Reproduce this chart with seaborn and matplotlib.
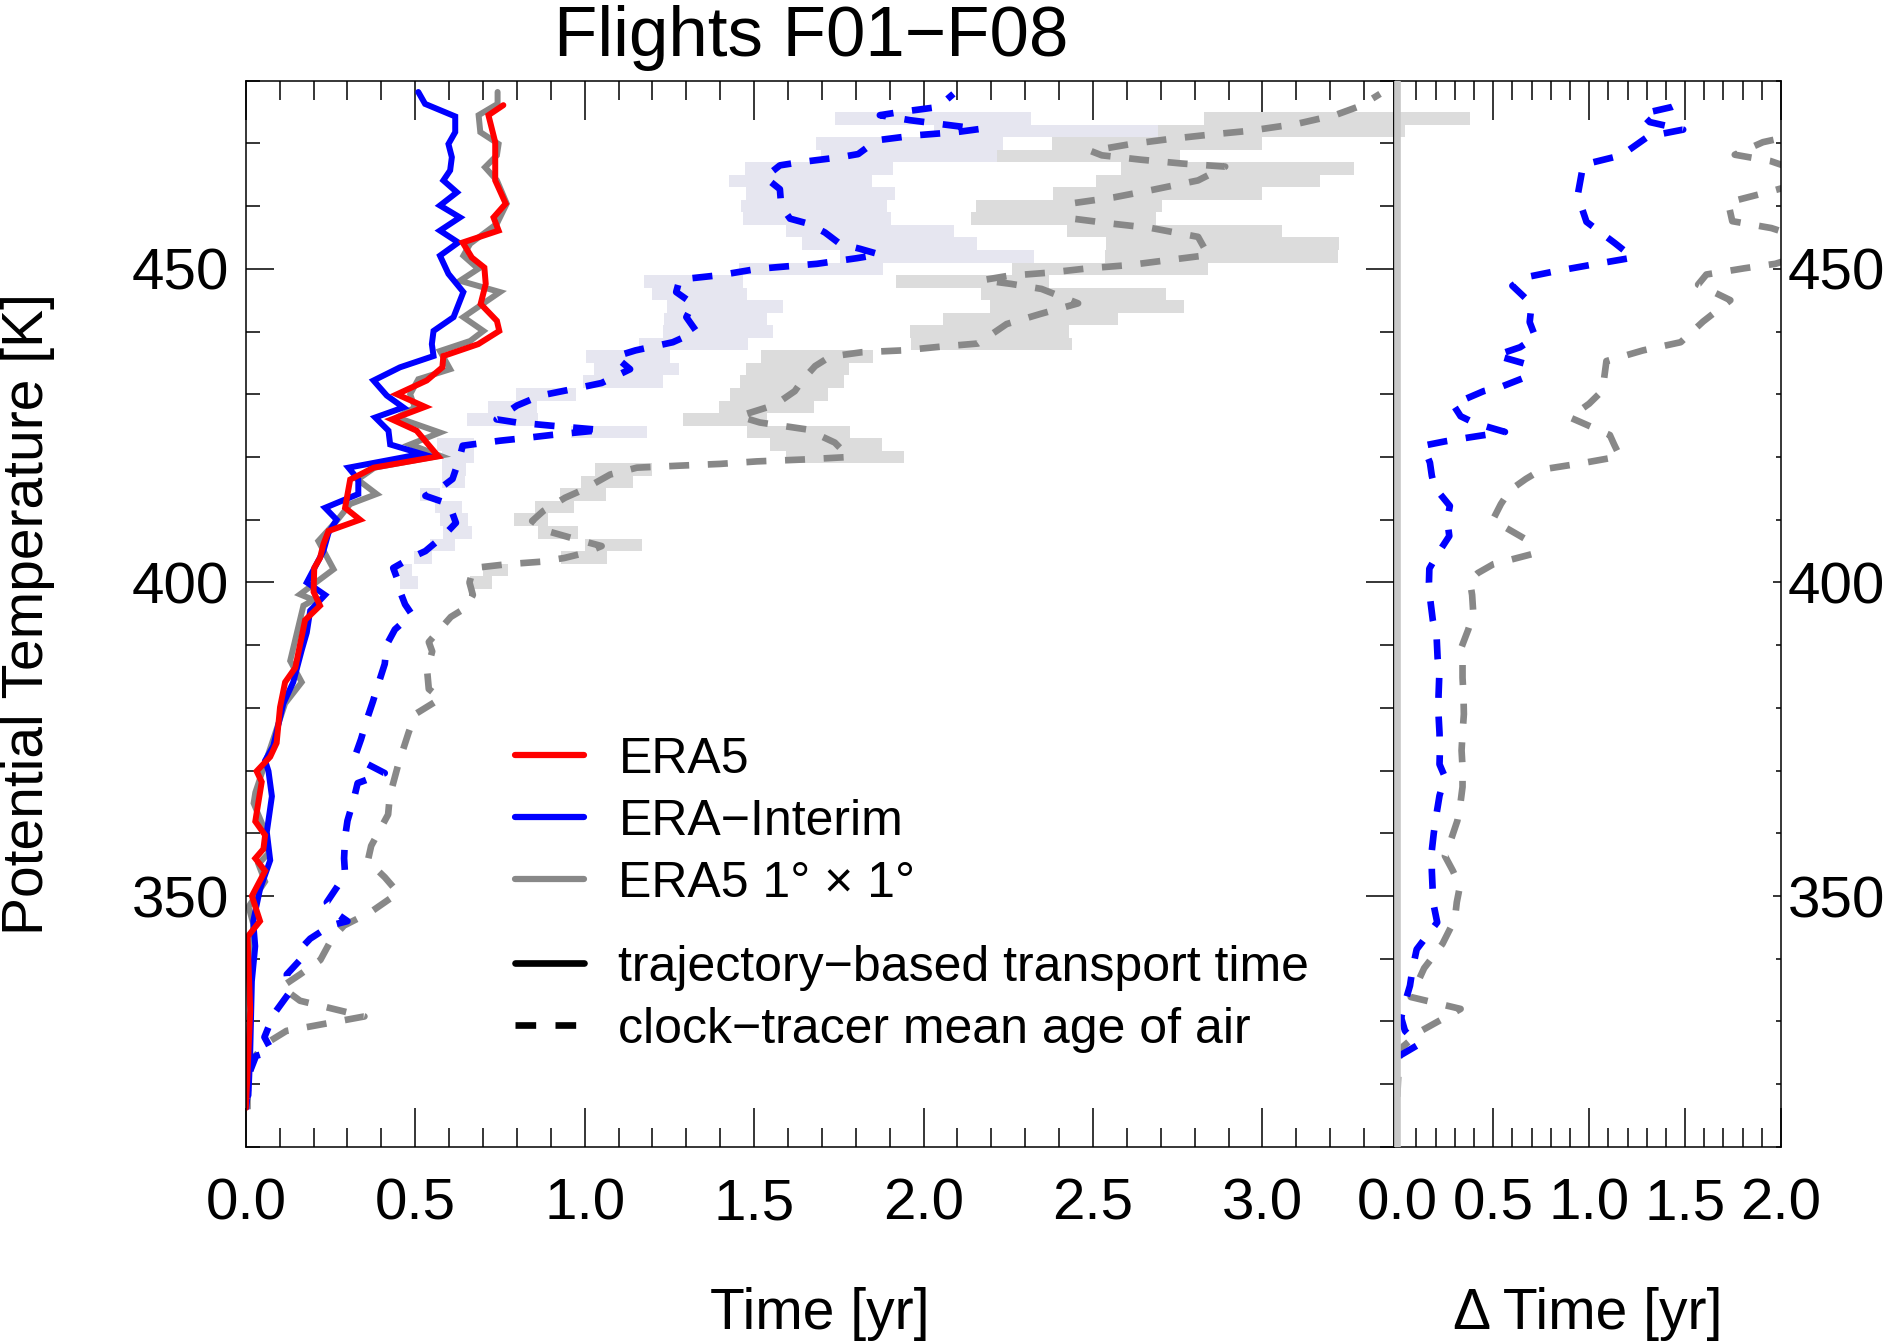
import numpy as np
import pandas as pd
import matplotlib
matplotlib.use("Agg")
import matplotlib.pyplot as plt
import seaborn as sns
from matplotlib.lines import Line2D
from matplotlib.ticker import MultipleLocator, FormatStrFormatter

# ---------------- data: (potential temperature [K], time [yr]) ----------------
era5_traj = [(316.2, 0.0), (321.6, 0.005), (331.8, 0.013), (343.5, 0.005), (346.0, 0.042),
             (350.0, 0.018), (354.0, 0.057), (356.0, 0.028), (357.5, 0.052), (359.7, 0.057),
             (361.9, 0.028), (368.2, 0.047), (369.9, 0.032), (372.2, 0.072), (374.4, 0.091),
             (380.1, 0.101), (384.1, 0.116), (386.4, 0.146), (394.0, 0.175), (396.3, 0.219),
             (398.5, 0.200), (402.3, 0.202), (403.9, 0.219), (406.1, 0.229), (408.2, 0.244),
             (410.0, 0.337), (411.9, 0.293), (416.4, 0.308), (418.3, 0.377), (420.1, 0.568),
             (424.2, 0.504), (426.0, 0.431), (428.0, 0.529), (430.0, 0.446), (432.2, 0.534),
             (434.3, 0.580), (436.1, 0.583), (438.0, 0.686), (440.1, 0.748), (441.7, 0.741),
             (444.4, 0.693), (447.6, 0.708), (450.2, 0.704), (451.8, 0.667), (454.2, 0.640),
             (456.1, 0.746), (458.2, 0.731), (460.4, 0.767), (464.1, 0.736), (470.2, 0.736),
             (474.5, 0.716), (476.1, 0.760)]

erai_traj = [(318.2, 0.008), (325.0, 0.013), (336.4, 0.018), (342.0, 0.028), (346.0, 0.022),
             (351.1, 0.042), (355.7, 0.072), (360.2, 0.062), (365.9, 0.077), (369.9, 0.067),
             (371.6, 0.057), (373.9, 0.081), (380.7, 0.111), (384.1, 0.140), (389.2, 0.165),
             (392.0, 0.180), (395.5, 0.190), (398.0, 0.234), (400.0, 0.180), (405.0, 0.229),
             (407.9, 0.244), (410.0, 0.268), (411.9, 0.234), (414.1, 0.332), (416.4, 0.332),
             (418.3, 0.303), (420.5, 0.519), (422.0, 0.426), (424.2, 0.421), (426.3, 0.382),
             (427.9, 0.465), (429.8, 0.416), (432.2, 0.377), (434.3, 0.455), (436.1, 0.554),
             (438.0, 0.549), (440.1, 0.554), (442.3, 0.613), (446.3, 0.642), (449.2, 0.598),
             (452.1, 0.573), (454.2, 0.627), (456.1, 0.573), (458.2, 0.632), (460.1, 0.573),
             (462.2, 0.623), (464.1, 0.583), (465.7, 0.603), (467.8, 0.608), (469.9, 0.598),
             (471.8, 0.618), (474.3, 0.618), (476.3, 0.529), (478.2, 0.509)]

era5c_traj = [(318.0, 0.005), (325.0, 0.010), (336.0, 0.015), (342.0, 0.020), (345.5, 0.022),
              (348.3, 0.008), (352.3, 0.057), (355.1, 0.037), (356.8, 0.067), (360.0, 0.060),
              (364.8, 0.023), (366.5, 0.028), (375.0, 0.081), (380.7, 0.116), (384.1, 0.165),
              (387.5, 0.131), (396.3, 0.170), (397.2, 0.200), (398.1, 0.160), (402.1, 0.259),
              (406.6, 0.214), (409.8, 0.268), (412.5, 0.308), (414.1, 0.386), (416.4, 0.330),
              (418.3, 0.380), (420.2, 0.573), (422.0, 0.485), (423.9, 0.573), (426.3, 0.446),
              (427.9, 0.499), (430.0, 0.485), (432.4, 0.509), (434.0, 0.603), (436.9, 0.573),
              (438.5, 0.662), (440.1, 0.701), (442.3, 0.642), (446.3, 0.750), (448.1, 0.632),
              (450.0, 0.686), (452.1, 0.642), (454.0, 0.662), (457.2, 0.741), (460.4, 0.770),
              (464.1, 0.741), (466.2, 0.706), (468.1, 0.741), (469.9, 0.746), (471.8, 0.692),
              (474.5, 0.687), (476.3, 0.743), (478.2, 0.743)]

erai_age = [(316.0, 0.0), (318.5, 0.005), (322.0, 0.012), (324.5, 0.03), (325.3, 0.077),
            (327.5, 0.055), (329.5, 0.07), (331.5, 0.087), (334.4, 0.126), (337.5, 0.121),
            (339.8, 0.16), (341.5, 0.16), (343.2, 0.19), (345.3, 0.25), (346.0, 0.30),
            (347.5, 0.26), (349.0, 0.239), (351.5, 0.27), (353.4, 0.293), (356.0, 0.29),
            (359.4, 0.293), (362.0, 0.30), (365.3, 0.318), (368.0, 0.33), (369.6, 0.41),
            (371.0, 0.36), (372.4, 0.323), (375.0, 0.34), (378.1, 0.357), (381.0, 0.375),
            (383.8, 0.391), (387.0, 0.41), (390.1, 0.416), (392.5, 0.44), (394.9, 0.49),
            (396.5, 0.47), (398.6, 0.455), (400.7, 0.446), (402.3, 0.435), (404.0, 0.49),
            (405.0, 0.53), (407.4, 0.583), (409.5, 0.62), (412.5, 0.60), (413.8, 0.53),
            (415.4, 0.583), (416.5, 0.61), (419.7, 0.63), (421.8, 0.64), (422.6, 0.75),
            (423.0, 0.82), (423.5, 0.90), (424.3, 1.05), (425.0, 0.90), (425.5, 0.80),
            (426.0, 0.74), (428.2, 0.80), (429.8, 0.87), (431.0, 0.98), (431.8, 1.05),
            (434.0, 1.134), (436.0, 1.09), (437.0, 1.15), (438.3, 1.26), (440.0, 1.33),
            (442.3, 1.30), (444.4, 1.32), (446.3, 1.27), (448.3, 1.28), (449.0, 1.40),
            (450.0, 1.51), (450.8, 1.685), (451.7, 1.803), (452.3, 1.87), (453.2, 1.812),
            (454.0, 1.753), (455.8, 1.709), (457.2, 1.66), (458.0, 1.606), (460.0, 1.58),
            (462.7, 1.576), (464.6, 1.532), (466.5, 1.576), (467.0, 1.635), (467.8, 1.754),
            (468.3, 1.807), (470.5, 1.862), (471.3, 1.979), (471.8, 2.097), (472.3, 2.166),
            (473.1, 2.048), (473.7, 1.96), (474.5, 1.871), (475.0, 1.93), (475.8, 2.043),
            (477.9, 2.088)]

era5c_age = [(316.0, 0.005), (320.0, 0.005), (324.0, 0.02), (326.5, 0.06), (328.5, 0.12),
             (329.5, 0.22), (330.8, 0.35), (333.3, 0.16), (335.5, 0.105), (337.5, 0.16),
             (339.8, 0.22), (343.2, 0.254), (345.3, 0.29), (347.5, 0.37), (350.5, 0.45),
             (353.0, 0.41), (355.6, 0.36), (358.0, 0.37), (360.0, 0.39), (363.0, 0.42),
             (366.0, 0.425), (371.0, 0.45), (376.0, 0.48), (379.0, 0.50), (381.5, 0.575),
             (383.0, 0.54), (386.0, 0.535), (389.0, 0.55), (390.5, 0.54), (394.5, 0.605),
             (396.0, 0.65), (398.0, 0.67), (400.0, 0.66), (402.3, 0.672), (402.9, 0.77),
             (403.3, 0.87), (403.9, 0.94), (404.7, 1.0), (405.8, 1.05), (407.0, 0.967),
             (408.2, 0.889), (409.8, 0.845), (411.4, 0.878), (413.5, 0.942), (414.8, 0.996),
             (417.2, 1.075), (418.3, 1.154), (418.6, 1.272), (418.9, 1.40), (419.3, 1.508),
             (419.6, 1.645), (420.0, 1.78), (422.3, 1.738), (424.4, 1.655), (425.5, 1.517),
             (426.5, 1.455), (428.3, 1.561), (430.5, 1.62), (432.4, 1.645), (434.5, 1.68),
             (436.0, 1.724), (436.7, 1.817), (437.0, 1.938), (437.6, 2.052), (438.1, 2.161),
             (441.2, 2.245), (442.8, 2.344), (444.5, 2.456), (446.8, 2.348), (447.6, 2.258),
             (448.2, 2.174), (448.9, 2.251), (449.4, 2.372), (450.1, 2.488), (450.6, 2.607),
             (451.4, 2.722), (452.2, 2.84), (455.1, 2.81), (456.5, 2.673), (457.2, 2.557),
             (458.0, 2.441), (460.5, 2.445), (461.4, 2.562), (462.6, 2.676), (464.1, 2.81),
             (466.3, 2.89), (466.8, 2.761), (467.4, 2.642), (468.1, 2.526), (468.8, 2.493),
             (469.9, 2.612), (470.7, 2.726), (471.4, 2.845), (472.0, 2.96), (473.1, 3.10),
             (474.5, 3.214), (476.0, 3.29), (477.9, 3.347)]

# spread of the clock-tracer age per 2 K layer: (theta, min, max)
erai_range = [(400, 0.455, 0.509), (402, 0.44, 0.49), (404, 0.495, 0.549), (406, 0.544, 0.617),
              (408, 0.583, 0.667), (410, 0.573, 0.657), (412, 0.559, 0.637), (414, 0.514, 0.573),
              (416, 0.578, 0.648), (418, 0.578, 0.650), (420, 0.578, 0.672), (422, 0.564, 0.672),
              (424, 0.961, 1.183), (426, 0.653, 0.863), (428, 0.716, 0.859), (430, 0.798, 0.975),
              (432, 0.994, 1.231), (434, 1.028, 1.279), (436, 1.003, 1.252), (438, 1.159, 1.483),
              (440, 1.230, 1.557), (442, 1.234, 1.537), (444, 1.244, 1.584), (446, 1.200, 1.478),
              (448, 1.175, 1.468), (450, 1.454, 1.879), (452, 1.753, 2.326), (454, 1.641, 2.158),
              (456, 1.594, 2.089), (458, 1.466, 1.903), (460, 1.461, 1.891), (462, 1.476, 1.915),
              (464, 1.426, 1.847), (466, 1.473, 1.909), (468, 1.697, 2.216), (470, 1.682, 2.233),
              (472, 2.032, 2.692), (474, 1.739, 2.316)]

era5c_range = [(400, 0.662, 0.726), (402, 0.701, 0.775), (404, 0.930, 1.066), (406, 1.000, 1.168),
               (408, 0.862, 0.980), (410, 0.792, 0.893), (412, 0.854, 0.967), (414, 0.928, 1.062),
               (416, 0.989, 1.142), (418, 1.031, 1.198), (420, 1.594, 1.942), (422, 1.547, 1.877),
               (424, 1.478, 1.783), (426, 1.290, 1.538), (428, 1.397, 1.677), (430, 1.429, 1.718),
               (432, 1.459, 1.765), (434, 1.476, 1.780), (436, 1.520, 1.850), (438, 1.963, 2.438),
               (440, 1.960, 2.429), (442, 2.057, 2.574), (444, 2.196, 2.768), (446, 2.170, 2.714),
               (448, 1.919, 2.369), (450, 2.261, 2.838), (452, 2.535, 3.223), (454, 2.538, 3.226),
               (456, 2.423, 3.058), (458, 2.140, 2.685), (460, 2.155, 2.705), (462, 2.382, 3.000),
               (464, 2.509, 3.170), (466, 2.583, 3.270), (468, 2.216, 2.758), (470, 2.380, 3.000),
               (472, 2.692, 3.420), (474, 2.827, 3.612)]

# right panel: difference (Delta time)
erai_delta = [(324.5, 0.01), (326.3, 0.11), (328.5, 0.04), (330.6, 0.02), (333.0, 0.04),
              (335.7, 0.066), (338.5, 0.08), (341.5, 0.101), (345.8, 0.208), (348.5, 0.19),
              (351.2, 0.184), (354.0, 0.18), (357.0, 0.179), (360.0, 0.19), (363.2, 0.205),
              (366.0, 0.22), (369.0, 0.248), (371.0, 0.22), (373.2, 0.222), (376.0, 0.22),
              (379.4, 0.214), (382.0, 0.215), (385.4, 0.219), (388.0, 0.21), (391.3, 0.205),
              (394.0, 0.185), (397.7, 0.17), (400.0, 0.165), (402.2, 0.167), (405.0, 0.22),
              (407.4, 0.271), (410.0, 0.26), (412.2, 0.274), (415.1, 0.196), (417.0, 0.18),
              (419.1, 0.17), (421.8, 0.135), (422.5, 0.25), (423.1, 0.37), (424.0, 0.561),
              (425.4, 0.404), (426.5, 0.33), (428.4, 0.29), (430.5, 0.45), (431.3, 0.55),
              (432.5, 0.65), (434.8, 0.675), (436.2, 0.515), (437.5, 0.64), (439.1, 0.72),
              (441.5, 0.69), (444.4, 0.70), (447.3, 0.60), (448.6, 0.66), (449.6, 0.821),
              (450.7, 1.021), (451.8, 1.229), (454.1, 1.134), (457.5, 0.986), (461.7, 0.94),
              (466.6, 0.969), (468.1, 1.168), (471.1, 1.307), (472.2, 1.49), (473.4, 1.316),
              (474.7, 1.273), (475.8, 1.43), (477.0, 1.515)]

era5c_delta = [(318.0, 0.0), (321.5, 0.005), (325.6, 0.014), (328.6, 0.13), (332.0, 0.33),
               (333.9, 0.07), (336.5, 0.11), (338.5, 0.14), (340.5, 0.19), (342.4, 0.236),
               (346.3, 0.30), (349.0, 0.31), (351.5, 0.326), (354.0, 0.29), (356.4, 0.248),
               (359.0, 0.28), (362.0, 0.313), (365.0, 0.33), (367.4, 0.34), (370.5, 0.34),
               (373.2, 0.335), (376.0, 0.34), (379.0, 0.347), (382.0, 0.345), (384.8, 0.34),
               (387.0, 0.34), (389.7, 0.335), (392.5, 0.37), (395.1, 0.396), (398.0, 0.39),
               (400.3, 0.378), (401.5, 0.42), (402.9, 0.50), (404.5, 0.70), (406.8, 0.674),
               (409.0, 0.55), (410.1, 0.50), (412.5, 0.54), (414.7, 0.587), (416.5, 0.67),
               (418.0, 0.752), (419.0, 0.96), (420.1, 1.16), (422.0, 1.13), (423.5, 1.108),
               (425.5, 0.96), (426.3, 0.90), (428.5, 1.0), (430.6, 1.07), (433.0, 1.08),
               (435.3, 1.09), (437.0, 1.281), (438.3, 1.477), (441.6, 1.594), (445.0, 1.736),
               (447.5, 1.568), (449.1, 1.611), (450.1, 1.811), (450.8, 1.97), (453.5, 2.25),
               (456.5, 1.95), (457.6, 1.746), (460.6, 1.724), (462.2, 1.927), (464.5, 2.2),
               (467.2, 1.944), (468.2, 1.759), (470.2, 1.906), (472.5, 2.25)]

legend_models = ["ERA5", "ERA\u2212Interim", "ERA5 1\u00b0 \u00d7 1\u00b0"]
legend_kinds = ["trajectory\u2212based transport time", "clock\u2212tracer mean age of air"]
title_text = "Flights F01\u2212F08"

# ---------------- style ----------------
RED, BLUE, GRAY = "#ff0000", "#0000ff", "#888888"
LAV, LGRAY, VGRAY = "#e6e6f0", "#dcdcdc", "#c8c8c8"
DASH = (3.0, 2.8)
LW_S, LW_D = 4.3, 4.8

sns.set_style("ticks")
plt.rcParams["font.family"] = ["Liberation Sans", "DejaVu Sans"]
for key in ("text.color", "axes.labelcolor", "xtick.color", "ytick.color", "axes.edgecolor"):
    plt.rcParams[key] = "black"
plt.rcParams["axes.linewidth"] = 1.1

fig = plt.figure(figsize=(18.89, 13.42), dpi=100)
ax1 = fig.add_axes([0.13012, 0.14538, 0.60799, 0.79449])
ax2 = fig.add_axes([0.73812, 0.14538, 0.20471, 0.79449])
ax2.set_facecolor("none")


def to_df(pairs):
    a = np.asarray(pairs, float)
    return pd.DataFrame({"theta": a[:, 0], "time": a[:, 1]})


def draw(ax, pairs, color, lw, dashed, z):
    sns.lineplot(data=to_df(pairs), x="time", y="theta", orient="y", sort=False,
                 estimator=None, color=color, lw=lw, ax=ax, zorder=z, legend=False)
    ln = ax.get_lines()[-1]
    if dashed:
        ln.set_dashes(DASH)
        ln.set_dash_capstyle("butt")
    ln.set_solid_joinstyle("miter")
    return ln


def boxes(ax, rng, color, z):
    a = np.asarray(rng, float)
    ax.barh(a[:, 0], a[:, 2] - a[:, 1], left=a[:, 1], height=2.0, color=color,
            linewidth=0, zorder=z, clip_on=False)


boxes(ax1, era5c_range, LGRAY, 1.0)
boxes(ax1, erai_range, LAV, 1.1)
draw(ax1, era5c_age, GRAY, LW_D, True, 2.0)
draw(ax1, erai_age, BLUE, LW_D, True, 2.1)
draw(ax1, era5c_traj, GRAY, LW_S, False, 2.2)
draw(ax1, erai_traj, BLUE, LW_S, False, 2.3)
draw(ax1, era5_traj, RED, LW_S, False, 2.4)

ax2.axvline(0.0, color=VGRAY, lw=4.8, zorder=2.7)
draw(ax2, era5c_delta, GRAY, LW_D, True, 2.0)
draw(ax2, erai_delta, BLUE, LW_D, True, 2.1)

# ---------------- axes ----------------
for ax in (ax1, ax2):
    ax.set_ylim(310, 480)
    ax.yaxis.set_major_locator(MultipleLocator(50))
    ax.yaxis.set_minor_locator(MultipleLocator(10))
    ax.xaxis.set_major_locator(MultipleLocator(0.5))
    ax.xaxis.set_minor_locator(MultipleLocator(0.1))
    ax.xaxis.set_major_formatter(FormatStrFormatter("%.1f"))
    ax.grid(False)
    for s in ax.spines.values():
        s.set_color("black")
        s.set_linewidth(1.1)
    ax.tick_params(axis="x", which="major", direction="in", length=28, width=1.1,
                   top=True, bottom=True, labelsize=42, pad=22, colors="black")
    ax.tick_params(axis="x", which="minor", direction="in", length=14, width=1.1,
                   top=True, bottom=True, colors="black")

ax1.set_xlim(0, 3.389)
ax2.set_xlim(-0.0156, 2.0)

ax1.tick_params(axis="y", which="major", direction="in", length=20, width=1.1,
                left=True, right=True, labelsize=42, pad=12, colors="black")
ax1.tick_params(axis="y", which="minor", direction="in", length=10, width=1.1,
                left=True, right=True, colors="black")
ax2.tick_params(axis="y", which="major", direction="in", length=6, width=1.1,
                left=False, right=True, labelleft=False, labelright=True,
                labelsize=42, pad=5, colors="black")
ax2.tick_params(axis="y", which="minor", direction="in", length=3.5, width=1.1,
                left=False, right=True, colors="black")

ax1.set_xlabel("Time [yr]", fontsize=41, color="black")
ax1.xaxis.set_label_coords(0.5, -0.131)
ax2.set_xlabel("\u0394 Time [yr]", fontsize=41, color="black")
ax2.xaxis.set_label_coords(0.5, -0.131)
ax1.set_ylabel("Potential Temperature [K]", fontsize=41, color="black")
ax1.yaxis.set_label_coords(-0.166, 0.5)
ax2.set_ylabel("")

fig.text(0.4293, 1 - 5 / 1342, title_text, fontsize=51, ha="center", va="top", color="black")

# ---------------- legends ----------------
h_models = [Line2D([], [], color=c, lw=4.5) for c in (RED, BLUE, GRAY)]
h_kinds = [Line2D([], [], color="black", lw=4.8),
           Line2D([], [], color="black", lw=4.8, dashes=(3.1, 2.9), dash_capstyle="butt")]
common = dict(frameon=False, fontsize=36, loc="upper left", borderpad=0, borderaxespad=0,
              handlelength=1.38, handletextpad=0.69, labelspacing=0.32)
leg1 = ax1.legend(h_models, legend_models, bbox_to_anchor=(0.2343, 0.3845), **common)
ax1.add_artist(leg1)
leg2 = ax1.legend(h_kinds, legend_kinds, bbox_to_anchor=(0.2343, 0.1894), **common)
for lg in (leg1, leg2):
    for t in lg.get_texts():
        t.set_color("black")

fig.savefig("out.png", dpi=100)
